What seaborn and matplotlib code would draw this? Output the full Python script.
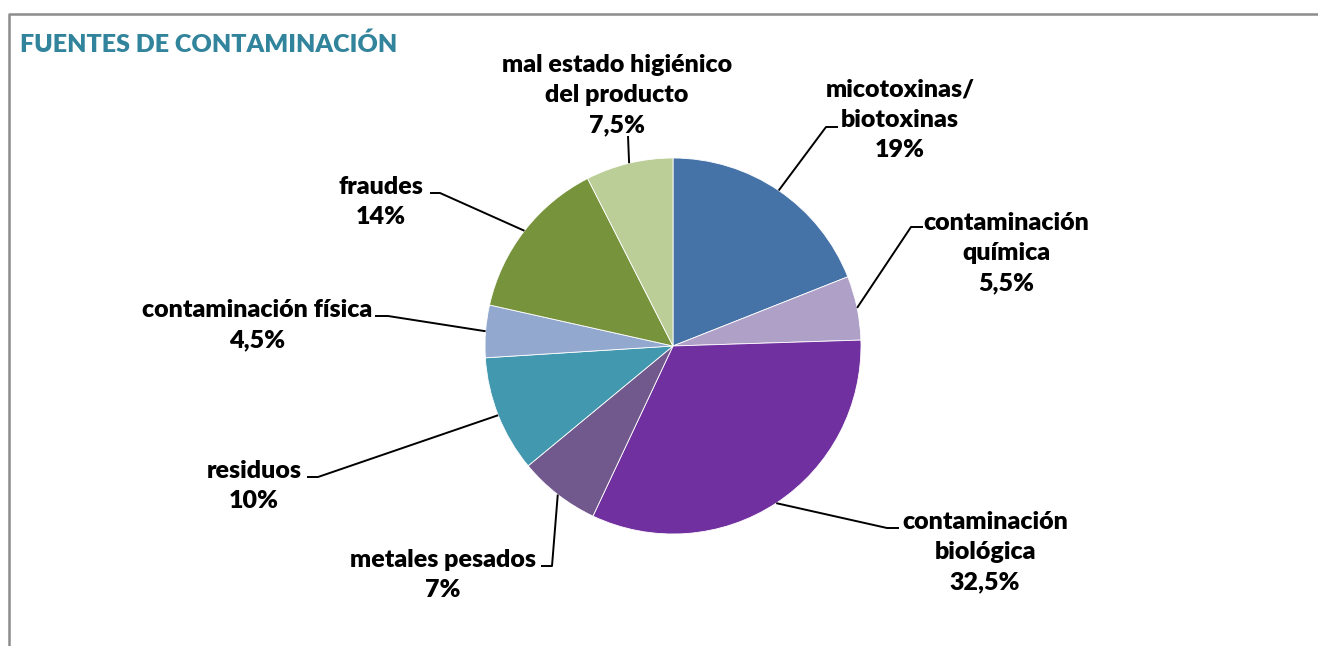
import numpy as np
import matplotlib
matplotlib.use("Agg")
import matplotlib.pyplot as plt
import seaborn as sns
from matplotlib.lines import Line2D

# ---- data ----
categories = ["micotoxinas/\nbiotoxinas", "contaminación\nquímica", "contaminación\nbiológica",
              "metales pesados", "residuos", "contaminación física", "fraudes",
              "mal estado higiénico\ndel producto"]
values = [19, 5.5, 32.5, 7, 10, 4.5, 14, 7.5]
value_labels = ["19%", "5,5%", "32,5%", "7%", "10%", "4,5%", "14%", "7,5%"]
colors = ["#4572A7", "#AFA0C8", "#7030A0", "#71598E", "#4298AF", "#93A8CF", "#77933C", "#BBCE97"]
title = "FUENTES DE CONTAMINACIÓN"

# ---- layout (pixel coords, y downward) ----
W, H = 1318, 646
center_px = (673, 346)
radius = 188
label_pos = [(900, 120), (1006, 253), (985, 552), (443, 575), (254, 486), (257, 325), (381, 202), (617, 95)]
elbows = [((826, 127), (838, 127)), ((911, 227), (923, 227)), ((887, 528), (899, 528)),
          ((552, 566), (541, 566)), ((318, 477), (307, 477)), ((388, 316), (375, 316)),
          ((440, 193), (430, 193)), ((628, 136), (628, 136))]

sns.set_theme(style="white")
plt.rcParams['font.family'] = ['Lato', 'DejaVu Sans']

fig = plt.figure(figsize=(W / 100, H / 100), dpi=100)
ax = fig.add_axes([0, 0, 1, 1])
ax.set_xlim(0, W)
ax.set_ylim(0, H)
ax.set_aspect('equal')
ax.axis('off')

def Y(py):
    return H - py

wedges, _ = ax.pie(values, colors=sns.color_palette(colors), startangle=90, counterclock=False,
                   center=(center_px[0], Y(center_px[1])), radius=radius,
                   wedgeprops=dict(edgecolor='white', linewidth=0.6))
ax.set_xlim(0, W)
ax.set_ylim(0, H)

for w, cat, vl, lp, (e1, e2) in zip(wedges, categories, value_labels, label_pos, elbows):
    mid = np.deg2rad((w.theta1 + w.theta2) / 2)
    sx = center_px[0] + radius * np.cos(mid)
    sy = Y(center_px[1]) + radius * np.sin(mid)
    ax.plot([sx, e1[0], e2[0]], [sy, Y(e1[1]), Y(e2[1])], color='black', lw=1.4,
            solid_capstyle='butt')
    ax.text(lp[0], Y(lp[1]), cat + "\n" + vl, ha='center', va='center', fontsize=18,
            fontweight='heavy', color='black', linespacing=1.45)

ax.text(20, Y(44), title, ha='left', va='center', fontsize=18, fontweight='heavy', color='#31849B')

# chart border (extends beyond the image on right and bottom)
fig.add_artist(Line2D([9 / W, 9 / W, 1.0], [0.0, 1 - 14 / H, 1 - 14 / H], transform=fig.transFigure,
                      color='#8C8C8C', lw=1.8))

fig.savefig("out.png", dpi=100, facecolor='white')
